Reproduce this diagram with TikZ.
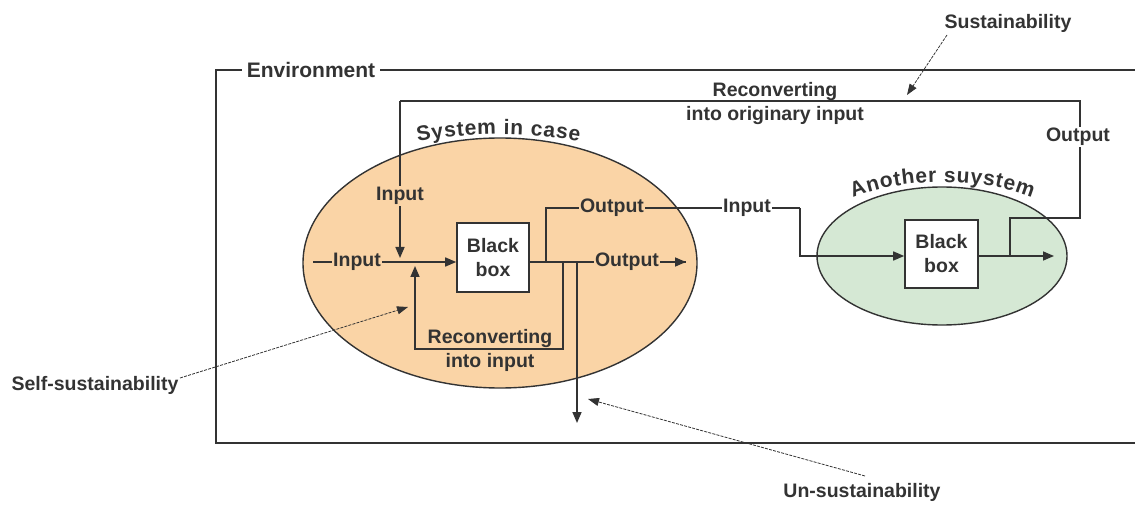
\documentclass[tikz,border=0pt]{standalone}
\usepackage{fontspec}
\setmainfont{Liberation Sans}
\usetikzlibrary{arrows.meta,decorations.text,shapes.geometric}
\definecolor{peach}{HTML}{FAD4A6}
\definecolor{mint}{HTML}{D5E8D4}
\definecolor{ink}{HTML}{333333}
\newcommand{\lab}{\fontsize{19.5}{24}\selectfont\bfseries}
\newcommand{\arclab}{\fontsize{21}{24}\selectfont\bfseries}
\begin{document}
\begin{tikzpicture}[x=1pt,y=1pt, ink, line width=1.6pt,
  txt/.style={font=\lab, text=ink, inner sep=1pt, align=center},
  lbl/.style={txt, fill=#1},
  bbox/.style={draw=ink, fill=white, line width=1.6pt, minimum width=72pt, minimum height=69pt, font=\lab, text=ink, align=center, inner sep=0pt},
  sysell/.style={ellipse, draw=ink, line width=1.4pt, inner sep=0pt},
  arr/.style={-{Triangle[length=11pt,width=9pt]}},
  pointer/.style={line width=0.8pt, dash pattern=on 3pt off 1.2pt, -{Triangle[length=11pt,width=8pt]}},
  arctext/.style={decorate, decoration={text effects along path, text={#1}, text align=center,
    text effects/.cd, text along path, characters={font=\arclab, text=ink, inner sep=0pt, inner xsep=0.4pt}}},
]
\useasboundingbox (0,0) rectangle (1135,504);
% environment
\draw (216,61) rectangle (1145,434);
\node[lbl=white, inner xsep=5pt, font=\fontsize{21}{24}\selectfont\bfseries] (env) at (311,434) {Environment};
% systems
\node[sysell, fill=peach, minimum width=394pt, minimum height=250pt] (sys1) at (500,241) {};
\node[sysell, fill=mint, minimum width=250pt, minimum height=138pt] (sys2) at (942,248) {};
\path[arctext={System in case}]
  (408,360) .. controls (462,373) and (535,373) .. (589,360);
\path[arctext={Another suystem}]
  (846,303) .. controls (897,328) and (988,328) .. (1039,303);
% black boxes
\node[bbox] (bb1) at (493,246.5) {Black\\box};
\node[bbox, minimum width=73pt, minimum height=68pt] (bb2) at (941.5,250) {Black\\box};
% coordinates
\coordinate (lt) at (313,242);
\coordinate (tl) at (400,403);
\coordinate (tr) at (1080,403);
\coordinate (in2end) at (400,246);
\coordinate (rl1) at (563,242);
\coordinate (rl2) at (563,155);
\coordinate (rl3) at (415,155);
\coordinate (rl4) at (415,238);
\coordinate (j1) at (546,242);
\coordinate (j1u) at (546,296);
\coordinate (k1) at (800,296);
\coordinate (k2) at (800,248);
\coordinate (o2end) at (686,242);
\coordinate (d1) at (577,242);
\coordinate (d2) at (577,81);
\coordinate (e2) at (1054,248);
\coordinate (j2) at (1010,248);
\coordinate (j2u) at (1010,286);
\coordinate (r1) at (1080,286);
% connectors
\draw (bb1.east |- j1) -- (o2end);
\draw[arr] (j1) -- (o2end);
\draw (j1) -- (j1u) -- (k1);
\draw[arr] (k1) -- (k2) -- (bb2.west |- k2);
\draw[arr] (rl1) -- (rl2) -- (rl3) -- (rl4);
\draw[arr] (d1) -- (d2);
\draw[arr] (bb2.east |- e2) -- (e2);
\draw (j2) -- (j2u) -- (r1) -- (tr) -- (tl);
\draw[arr] (tl) -- (in2end);
\draw[arr] (lt) -- (bb1.west |- lt);
% labels on lines
\node[lbl=peach] (in1) at (357,242) {Input};
\node[lbl=peach] (in2) at (400,308) {Input};
\node[lbl=peach] (out1) at (612,296) {Output};
\node[lbl=white] (in3) at (747,296) {Input};
\node[lbl=peach] (out2) at (627,242) {Output};
\node[lbl=white] (out3) at (1078,367) {Output};
\node[txt] (rec1) at (490,154) {Reconverting\\into input};
\node[txt] (rec2) at (775,400) {Reconverting\\into originary input};
% annotations
\node[txt] (sus) at (1008,481) {Sustainability};
\node[txt] (self) at (95,119) {Self-sustainability};
\node[txt] (uns) at (862,12) {Un-sustainability};
\coordinate (sus0) at (947,469);
\coordinate (sus1) at (907,409);
\coordinate (self0) at (180,126);
\coordinate (self1) at (408,197);
\coordinate (uns0) at (865,28);
\coordinate (uns1) at (588,105);
\draw[pointer] (sus0) -- (sus1);
\draw[pointer] (self0) -- (self1);
\draw[pointer] (uns0) -- (uns1);
\end{tikzpicture}
\end{document}
